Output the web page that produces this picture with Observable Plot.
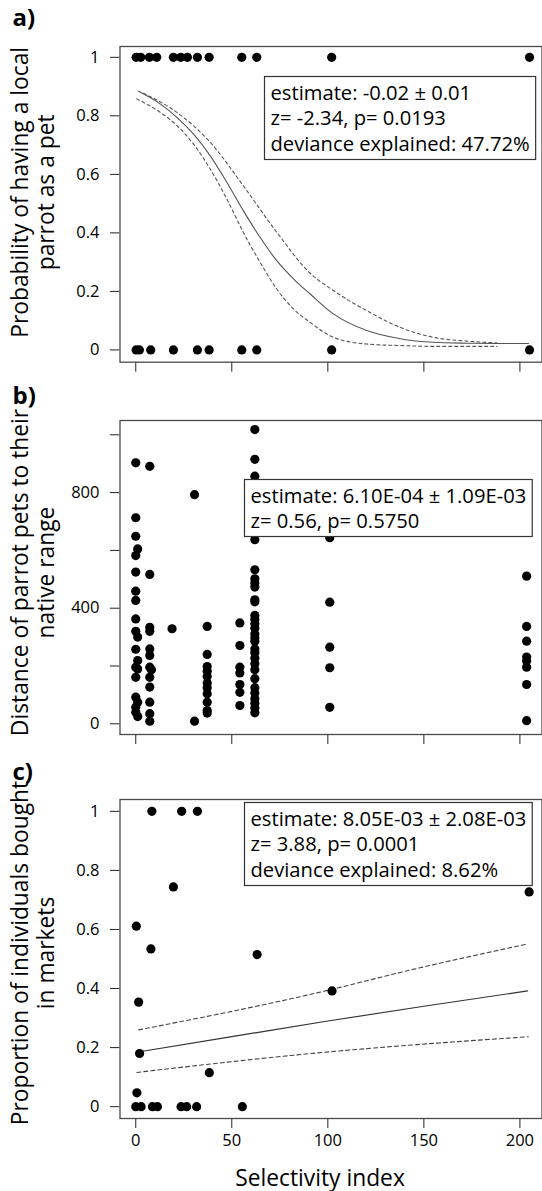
<!DOCTYPE html>
<html><head><meta charset="utf-8">
<script src="https://cdn.jsdelivr.net/npm/d3@7"></script>
<script src="https://cdn.jsdelivr.net/npm/@observablehq/plot@0.6"></script>
<style>body{margin:0;background:#fff} svg{display:block}</style>
</head><body><div id="chart"></div>
<script>
// ---------- data ----------
const xTicks = [0, 50, 100, 150, 200];
const xTickLabels = ["0", "50", "100", "150", "200"];

const aOnesX  = [0.2, 2.6, 7.1, 10.9, 19.6, 23.4, 26.9, 32.1, 38.2, 55.2, 63, 102, 205];
const aZerosX = [0.2, 1.9, 7.8, 19.6, 32.1, 38.2, 55.2, 63, 102, 205];
const aFitX   = [1.4, 12.7, 21.4, 30, 38.7, 47.4, 56, 64.7, 73.4, 82.1, 90.8, 102.9, 120.3, 137.7, 155, 172.4, 189.7, 204.5];
const aFitY   = [0.884, 0.841, 0.795, 0.738, 0.664, 0.573, 0.476, 0.385, 0.305, 0.243, 0.191, 0.123, 0.066, 0.038, 0.026, 0.023, 0.022, 0.022];
const aUpX    = [4, 21.4, 38.7, 56, 73.4, 90.8, 102.9, 120.3, 137.7, 155, 172.4, 188];
const aUpY    = [0.877, 0.812, 0.71, 0.561, 0.402, 0.262, 0.203, 0.134, 0.077, 0.043, 0.03, 0.024];
const aLoX    = [0.5, 12.7, 21.4, 30, 38.7, 47.4, 56, 64.7, 73.4, 82.1, 90.8, 102.9, 120.3, 137.7, 155, 188];
const aLoY    = [0.858, 0.812, 0.767, 0.704, 0.619, 0.516, 0.402, 0.30, 0.208, 0.14, 0.094, 0.043, 0.02, 0.015, 0.012, 0.012];
const aYTicks = [0, 0.2, 0.4, 0.6, 0.8, 1];
const aText = ["estimate: -0.02 \u00b1 0.01", "z= -2.34, p= 0.0193", "deviance explained: 47.72%"];
const aTitle = ["Probability of having a local", "parrot as a pet"];

const bX = [
  0,0,0,1,0,0,0,0,0,0,1,0,1,0,1,0,0,1,0,1,0,
  7.3,7.3,7.3,7.3,7.3,7.3,7.3,8.2,7.3,7.3,7.3,7.3,7.3,
  18.9, 30.6, 30.6,
  37.2,37.2,37.2,37.2,37.2,37.2,37.2,37.2,37.2,37.2,37.2,
  54.2,54.2,54.2,54.2,54.2,54.2,54.2,
  62,62,62,62,62,62,62,62,62,62,62,62,62,62,62,62,62,62,62,62,62,62,62,62,62,62,62,62,62,
  101,101,101,101,101,
  203.5,203.5,203.5,203.5,203.5,203.5,203.5,203.5
];
const bY = [
  903,713,649,605,582,525,459,427,363,320,300,258,219,196,190,161,92,75,57,25,40,
  891,517,334,320,259,236,196,187,161,127,75,35,9,
  329, 793, 9,
  337,240,198,182,164,141,125,104,75,46,37,
  349,271,196,176,136,109,63,
  1018,915,857,637,533,502,487,473,429,422,375,361,346,331,311,298,286,259,246,227,208,187,156,125,107,87,71,55,38,
  644,421,265,194,57,
  511,337,286,231,217,196,136,11
];
const bYTicks = [0, 200, 400, 600, 800, 1000];
const bYLabels = ["0", "", "400", "", "800", ""];
const bText = ["estimate: 6.10E-04 \u00b1 1.09E-03", "z= 0.56, p= 0.5750"];
const bTitle = ["Distance of parrot pets to their", "native range"];

const cX = [8.4, 23.9, 32.1, 19.6, 0.3, 7.9, 63.2, 102.2, 204.8, 1.5, 2, 38.3, 0.6, 0, 2.8, 8.7, 11.3, 23.6, 26.5, 31.7, 55.5];
const cY = [1, 1, 1, 0.744, 0.611, 0.534, 0.515, 0.392, 0.727, 0.354, 0.18, 0.115, 0.047, 0, 0, 0, 0, 0, 0, 0, 0];
const cFitX = [2, 50, 100, 150, 204];
const cFitY = [0.186, 0.237, 0.29, 0.34, 0.392];
const cUpX  = [1.5, 102, 138, 204];
const cUpY  = [0.26, 0.397, 0.455, 0.551];
const cLoX  = [0.6, 91.3, 204.4];
const cLoY  = [0.116, 0.18, 0.237];
const cYTicks = [0, 0.2, 0.4, 0.6, 0.8, 1];
const cText = ["estimate: 8.05E-03 \u00b1 2.08E-03", "z= 3.88, p= 0.0001", "deviance explained: 8.62%"];
const cTitle = ["Proportion of individuals bought", "in markets"];
const xTitle = "Selectivity index";

// ---------- drawing ----------
const FONT = "'Open Sans', sans-serif";
const TICK_FS = 16.5, NOTE_FS = 20.2, TITLE_FS = 22.8, TAG_FS = 24;
const LINE = 26;
const ML = 119.5, MR = 0.5;
const xDomain = [-8.2, 211.5];
const pts = (xs, ys) => xs.map((x, i) => ({x, y: ys[i]}));

function panel({height, mt, mb, yDomain, yTicks, yLabels, marks, note, noteDx, noteBase, title, titleDy, tag, tagY, xLabels}) {
  return Plot.plot({
    width: 542, height, marginLeft: ML, marginRight: MR, marginTop: mt, marginBottom: mb,
    style: {fontFamily: FONT, fontSize: TICK_FS + "px", color: "#000", background: "#fff", overflow: "visible"},
    x: {domain: xDomain},
    y: {domain: yDomain},
    marks: [
      Plot.axisX({ticks: xTicks, tickSize: 10, tickPadding: 6, label: null, stroke: "#222",
        tickFormat: (d) => xLabels ? xTickLabels[xTicks.indexOf(d)] : ""}),
      Plot.axisY({ticks: yTicks, tickSize: 9.5, tickPadding: 11, label: null, stroke: "#222",
        tickFormat: (d) => yLabels[yTicks.indexOf(d)]}),
      ...marks,
      Plot.frame({stroke: "#4a4a4a", strokeWidth: 1.3}),
      Plot.text([note.join("\n")], {text: d => d, frameAnchor: "top-left", textAnchor: "start", lineAnchor: "top",
        dx: noteDx, dy: noteBase - 0.71 * LINE, fontSize: NOTE_FS, lineHeight: LINE / NOTE_FS, fill: "#000",
        ariaDescription: "annot"}),
      Plot.text([title.join("\n")], {text: d => d, frameAnchor: "left", rotate: -90, textAnchor: "middle", lineAnchor: "middle",
        dx: -87.5, dy: titleDy, fontSize: TITLE_FS, lineHeight: LINE / TITLE_FS, fill: "#000"}),
      Plot.text([tag], {text: d => d, frameAnchor: "top-left", textAnchor: "start", lineAnchor: "middle",
        dx: 12 - ML, dy: tagY - mt, fontSize: TAG_FS, fontWeight: "bold", fill: "#000"})
    ]
  });
}

const dotOpt = {x: "x", y: "y", r: 4.6, fill: "#000"};
const curve = (stroke, w, dash) => ({x: "x", y: "y", stroke, strokeWidth: w, strokeDasharray: dash, curve: "monotone-x"});

const A = panel({
  height: 380, mt: 46, mb: 18.3, yDomain: [-0.042, 1.037], yTicks: aYTicks, yLabels: aYTicks.map(String),
  marks: [
    Plot.line(pts(aFitX, aFitY), curve("#555", 1.1)),
    Plot.line(pts(aUpX, aUpY), curve("#555", 1.1, "3,3")),
    Plot.line(pts(aLoX, aLoY), curve("#555", 1.1, "3,3")),
    Plot.dot(pts(aOnesX, aOnesX.map(() => 1)), dotOpt),
    Plot.dot(pts(aZerosX, aZerosX.map(() => 0)), dotOpt)
  ],
  note: aText, noteDx: 270 - ML, noteBase: 99 - 46, title: aTitle, titleDy: -12, tag: "a)", tagY: 18, xLabels: false
});

const B = panel({
  height: 372, mt: 40, mb: 18, yDomain: [-37, 1049.5], yTicks: bYTicks, yLabels: bYLabels,
  marks: [Plot.dot(pts(bX, bY), dotOpt)],
  note: bText, noteDx: 250 - ML, noteBase: 502 - 420, title: bTitle, titleDy: -5, tag: "b)", tagY: 16, xLabels: false
});

const C = panel({
  height: 439, mt: 47, mb: 73, yDomain: [-0.04, 1.04], yTicks: cYTicks, yLabels: cYTicks.map(String),
  marks: [
    Plot.line(pts(cFitX, cFitY), curve("#333", 1.2)),
    Plot.line(pts(cUpX, cUpY), curve("#444", 1.1, "4,3")),
    Plot.line(pts(cLoX, cLoY), curve("#444", 1.1, "4,3")),
    Plot.dot(pts(cX, cY), dotOpt),
    Plot.text([xTitle], {text: d => d, frameAnchor: "bottom", dx: -11, dy: 60, lineAnchor: "middle", fontSize: TITLE_FS, fill: "#000"})
  ],
  note: cText, noteDx: 250 - ML, noteBase: 825 - 799, title: cTitle, titleDy: -6, tag: "c)", tagY: 20, xLabels: true
});

document.getElementById("chart").append(A, B, C);

// boxes behind the statistics annotations (sized from the rendered text)
for (const t of document.querySelectorAll('g[aria-description="annot"] text')) {
  const bb = t.getBBox();
  const r = document.createElementNS("http://www.w3.org/2000/svg", "rect");
  r.setAttribute("x", bb.x - 6);
  r.setAttribute("y", bb.y - 1);
  r.setAttribute("width", bb.width + 12);
  r.setAttribute("height", bb.height + 3);
  r.setAttribute("fill", "#fff");
  r.setAttribute("stroke", "#333");
  r.setAttribute("stroke-width", 1.2);
  if (t.getAttribute("transform")) r.setAttribute("transform", t.getAttribute("transform"));
  t.parentNode.insertBefore(r, t);
}
</script>
</body></html>
